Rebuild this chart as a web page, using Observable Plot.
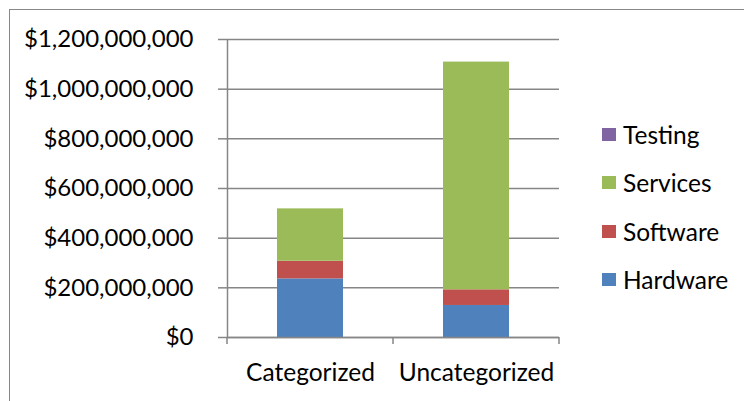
<!DOCTYPE html>
<html>
<head>
<meta charset="utf-8">
<script src="https://cdn.jsdelivr.net/npm/d3@7"></script>
<script src="https://cdn.jsdelivr.net/npm/@observablehq/plot@0.6"></script>
<style>
  html, body { margin: 0; padding: 0; background: #fff; }
  #wrap { position: relative; width: 744px; height: 401px; overflow: hidden; font-family: Lato, sans-serif; }
  #frame { position: absolute; left: 9px; top: 9px; width: 800px; height: 450px; border: 1.5px solid #888; box-sizing: border-box; }
  #chart { position: absolute; left: 0; top: 0; }
  #legend { position: absolute; left: 602px; top: 110px; font-size: 24.5px; color: #000; }
  .item { display: flex; align-items: center; height: 48.5px; }
  .sw { width: 14px; height: 13px; margin-right: 7px; }
</style>
</head>
<body>
<div id="wrap">
  <div id="frame"></div>
  <div id="chart"></div>
  <div id="legend"></div>
</div>
<script>
const categories = ["Categorized", "Uncategorized"];
const seriesNames = ["Hardware", "Software", "Services", "Testing"];
const hardware = [236000000, 129000000];
const software = [71000000, 63000000];
const services = [211000000, 917000000];
const testing = [0, 0];
const yTicks = [0, 200000000, 400000000, 600000000, 800000000, 1000000000, 1200000000];
const colors = ["#4F81BD", "#C0504D", "#9BBB59", "#8064A2"];

const seriesValues = [hardware, software, services, testing];
const data = [];
seriesNames.forEach((s, i) => categories.forEach((c, j) => data.push({category: c, series: s, value: seriesValues[i][j]})));

const step = (744 - 227 - 185) / categories.length;

const chart = Plot.plot({
  width: 744,
  height: 401,
  marginLeft: 227,
  marginRight: 185,
  marginTop: 39,
  marginBottom: 64,
  style: {fontFamily: "Lato, sans-serif", fontSize: "24.5px", color: "#000", background: "transparent"},
  x: {domain: categories, paddingInner: 0.6, paddingOuter: 0.3, label: null},
  y: {type: "linear", domain: [0, 1200000000], label: null},
  color: {domain: seriesNames, range: colors},
  marks: [
    Plot.gridY(yTicks, {stroke: "#868686", strokeOpacity: 1, strokeWidth: 1.5}),
    Plot.barY(data, {x: "category", y: "value", fill: "series"}),
    Plot.axisY(yTicks, {tickFormat: d3.format("$,"), tickSize: 9, tickPadding: 25, stroke: "#868686", strokeWidth: 1.5, fontSize: 24, label: null}),
    Plot.ruleX([categories[0]], {dx: -step / 2, y1: 0, y2: 1200000000, stroke: "#868686", strokeWidth: 1.5}),
    Plot.ruleY([0], {stroke: "#868686", strokeWidth: 1.5}),
    Plot.axisX({tickSize: 0, tickPadding: 26, label: null})
  ]
});
document.getElementById("chart").appendChild(chart);

// x-axis boundary tick marks, positioned through the plot's scales
const xs = chart.scale("x");
const ys = chart.scale("y");
const svg = d3.select(chart);
const y0 = ys.apply(0);
const gap = (step - xs.bandwidth) / 2;
const bounds = categories.map(c => xs.apply(c) - gap)
  .concat([xs.apply(categories[categories.length - 1]) + xs.bandwidth + gap]);
svg.append("g").selectAll("line").data(bounds).join("line")
  .attr("x1", d => d).attr("x2", d => d).attr("y1", y0).attr("y2", y0 + 7)
  .attr("stroke", "#868686").attr("stroke-width", 1.5);

const legend = document.getElementById("legend");
[...seriesNames].reverse().forEach(s => {
  const item = document.createElement("div");
  item.className = "item";
  const sw = document.createElement("div");
  sw.className = "sw";
  sw.style.background = colors[seriesNames.indexOf(s)];
  const t = document.createElement("span");
  t.textContent = s;
  item.appendChild(sw); item.appendChild(t);
  legend.appendChild(item);
});
</script>
</body>
</html>
